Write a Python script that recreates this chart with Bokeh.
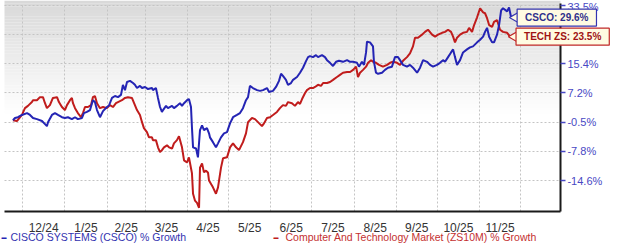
import numpy as np
import pandas as pd
from bokeh.plotting import figure
from bokeh.models import Range1d, FixedTicker, Label, BoxAnnotation
from bokeh.embed import file_html
from bokeh.resources import INLINE

# ---------------- data ----------------
start_date = pd.Timestamp("2024-11-24")

csco_day = [0.0, 1.5, 3.7, 6.6, 10.3, 12.5, 14.7, 17.6, 21.3, 23.5, 24.9, 25.7, 28.6, 30.8, 33.0, 35.9, 38.1,
            40.3, 43.2, 45.5, 47.6, 50.6, 52.0, 54.2, 56.5, 58.6, 60.1, 61.6, 63.8, 66.0, 68.9, 70.4, 72.6,
            74.8, 77.0, 79.2, 80.6, 82.1, 83.6, 85.8, 88.0, 89.4, 90.9, 93.1, 94.6, 96.8, 99.0, 101.9, 102.6,
            104.8, 106.3, 107.8, 109.2, 110.0, 112.2, 113.6, 116.6, 118.0, 120.2, 122.4, 123.9, 125.4, 127.6,
            129.0, 130.5, 131.2, 132.0, 134.2, 135.6, 137.1, 138.6, 140.0, 142.2, 143.7, 144.4, 146.6, 148.8,
            150.3, 152.5, 154.7, 156.9, 159.1, 161.3, 164.2, 166.4, 168.6, 170.8, 172.3, 173.7, 175.9, 178.9,
            181.1, 183.3, 186.2, 187.7, 190.6, 192.8, 195.0, 196.5, 197.9, 200.1, 201.6, 203.8, 205.3, 208.2,
            210.4, 212.6, 214.8, 216.3, 217.7, 219.9, 222.1, 223.6, 226.5, 228.7, 230.2, 232.4, 234.6, 236.8,
            239.0, 241.9, 244.9, 247.1, 249.3, 252.2, 253.6, 255.8, 257.3, 258.8, 259.5, 261.7, 263.9, 264.6,
            266.1, 267.6, 270.5, 272.7, 274.9, 277.8, 280.0, 282.2, 283.7, 285.9, 288.8, 291.0, 293.2, 296.2,
            298.4, 300.6, 303.5, 305.7, 307.9, 310.8, 313.0, 315.2, 316.7, 318.9, 321.1, 322.6, 324.0, 325.5,
            327.7, 329.9, 332.8, 335.0, 337.2, 340.2, 342.4, 344.6, 346.0, 347.5, 349.0, 351.2, 352.6, 354.8,
            356.3, 357.8, 359.2, 362.2, 363.6, 365.1, 366.6]
csco_growth = [0.0, 0.6, 0.8, 1.4, 1.9, 1.4, 0.6, 0.3, -0.2, -1.0, -1.5, -0.5, 1.4, 1.9, 1.4, 0.8, 0.6,
               0.8, 0.3, 0.8, 0.3, 0.6, 1.9, 2.2, 2.7, 5.3, 4.8, 2.7, 0.8, 2.4, 3.5, 3.9, 5.9,
               6.4, 6.1, 6.7, 9.5, 8.0, 10.3, 10.6, 10.0, 9.5, 8.6, 9.2, 8.6, 8.9, 8.3, 8.6, 8.0,
               8.6, 5.9, 3.5, 2.2, 2.7, 3.8, 3.2, 3.8, 3.2, 3.8, 4.5, 3.8, 4.5, 5.3,
               5.6, 3.5, -1.8, -6.8, -7.1, -9.2, -2.5, -1.3, -2.5, -2.0, -3.3, -4.3, -5.5, -6.8,
               -5.8, -4.3, -3.3, -3.0, -0.8, 0.8, 1.4, 1.9, 3.2, 5.3, 6.1, 9.2, 8.6, 8.0,
               7.8, 8.0, 8.6, 7.5, 7.8, 8.9, 10.6, 12.6, 12.0, 10.9, 9.5, 10.0, 10.9, 11.7,
               12.9, 14.3, 16.2, 17.4, 17.7, 17.4, 18.0, 17.4, 18.0, 17.4, 16.5, 15.7, 14.8, 16.0,
               16.3, 16.0, 16.5, 16.0, 16.0, 15.7, 14.6, 16.0, 15.1, 18.8, 22.0, 21.8, 20.6, 16.0,
               12.9, 12.6, 12.9, 13.7, 14.3, 14.6, 17.4, 17.4, 16.5, 15.1, 14.6, 15.1, 14.3, 12.9,
               14.3, 16.5, 16.0, 15.1, 14.6, 15.1, 15.7, 16.5, 16.0, 17.4, 18.8, 19.7, 17.4, 15.1,
               16.5, 18.8, 19.7, 20.3, 20.6, 21.8, 22.6, 23.5, 25.0, 26.3, 23.5, 21.8, 21.8, 24.1,
               27.2, 31.9, 32.6, 31.6, 32.9, 29.7, 29.6]

tech_day = [0.0, 2.9, 6.6, 8.8, 11.0, 13.9, 14.7, 17.6, 19.8, 22.0, 23.5, 24.9, 27.1, 29.3, 32.3, 33.7, 35.9,
            38.1, 39.6, 41.8, 43.2, 44.0, 45.5, 47.6, 49.9, 51.3, 52.8, 55.0, 57.2, 58.6, 60.1, 61.6, 63.8,
            66.0, 68.9, 71.1, 73.3, 75.5, 77.0, 79.9, 82.1, 84.3, 87.2, 89.4, 90.9, 93.1, 94.6, 96.0, 98.2,
            99.7, 101.9, 102.6, 104.8, 106.3, 107.8, 109.2, 110.7, 112.9, 114.4, 116.6, 118.0, 120.2, 121.7,
            123.9, 125.4, 127.6, 129.0, 131.2, 132.0, 133.4, 134.9, 136.4, 137.1, 138.6, 140.0, 141.5, 143.0,
            143.7, 146.6, 148.8, 150.3, 152.5, 154.0, 156.9, 159.1, 161.3, 163.5, 165.7, 168.6, 170.8, 172.3,
            175.2, 177.4, 179.6, 182.5, 184.0, 186.2, 188.4, 190.6, 193.5, 195.7, 197.9, 200.1, 201.6, 204.5,
            206.7, 208.9, 210.4, 211.9, 214.1, 215.5, 217.7, 219.9, 221.4, 223.6, 225.8, 227.3, 230.2, 232.4,
            234.6, 237.5, 239.7, 241.9, 244.9, 247.1, 249.3, 251.5, 252.9, 254.4, 256.6, 258.8, 260.3, 262.5,
            263.9, 266.1, 268.3, 271.2, 274.2, 276.4, 278.6, 281.5, 283.7, 285.9, 288.8, 291.0, 293.2, 294.7,
            296.9, 299.8, 302.0, 304.2, 307.2, 309.4, 311.6, 314.5, 316.7, 318.9, 321.1, 322.6, 324.0, 325.5,
            327.7, 329.9, 332.8, 334.3, 336.5, 338.0, 340.2, 342.4, 344.6, 346.0, 347.5, 349.0, 351.2, 352.6,
            354.8, 357.0, 359.2, 362.2, 364.4, 365.8]
tech_growth = [0.0, -0.2, 1.4, 3.2, 3.8, 4.8, 5.3, 5.3, 6.1, 6.1, 4.5, 3.2, 4.0, 5.9, 6.1, 4.8, 3.5,
               2.7, 4.0, 5.3, 5.9, 4.5, 3.2, 1.9, 0.8, 1.9, 3.5, 3.5, 4.0, 6.1, 6.4, 4.5, 3.2,
               3.5, 3.2, 4.0, 3.5, 4.5, 4.8, 5.3, 5.9, 6.1, 5.9, 4.0, 2.7, 1.4, -0.5, -2.0, -3.0,
               -4.3, -4.3, -5.0, -5.0, -6.8, -8.0, -7.5, -6.8, -6.3, -6.8, -7.1, -5.8, -5.0, -4.0,
               -6.8, -9.9, -10.4, -9.2, -12.9, -17.5, -19.0, -19.5, -20.6, -11.6, -10.6, -12.7, -12.3, -12.8,
               -14.6, -16.1, -17.5, -16.1, -11.6, -9.4, -9.2, -6.8, -5.8, -6.8, -7.5, -5.5, -3.3, -0.5,
               0.6, 0.3, -0.5, -1.5, -0.8, 0.6, 0.8, 1.4, 2.2, 3.2, 4.0, 3.8, 4.8, 4.5,
               3.8, 4.8, 4.3, 5.6, 7.2, 8.0, 8.6, 8.6, 8.9, 9.5, 9.2, 10.0, 10.0, 10.3,
               10.9, 11.7, 12.3, 12.9, 13.1, 13.1, 13.7, 14.6, 11.7, 12.9, 13.7, 14.6, 15.7, 16.5,
               16.0, 15.7, 15.1, 14.6, 15.1, 15.7, 16.0, 15.7, 15.1, 16.3, 17.4, 18.5, 20.6, 23.2,
               23.2, 24.1, 25.0, 25.7, 24.1, 23.5, 24.1, 24.7, 25.0, 25.7, 25.0, 23.5, 21.8, 23.2,
               24.1, 24.7, 25.0, 26.3, 25.0, 27.2, 29.7, 32.6, 31.3, 31.0, 29.4, 27.2, 26.6, 28.2,
               28.8, 25.7, 25.0, 24.7, 23.5, 23.5]

month_labels = ["12/24", "1/25", "2/25", "3/25", "4/25", "5/25", "6/25",
                "7/25", "8/25", "9/25", "10/25", "11/25"]
y_tick_values = [-21.0, -14.6, -7.8, -0.5, 7.2, 15.4, 24.1, 33.5]

csco_name = "CISCO SYSTEMS (CSCO) % Growth"
tech_name = "Computer And Technology Market (ZS10M) % Growth"

# ---------------- scales ----------------
# the value axis has evenly spaced gridlines at the chart's own tick values
pos_index = np.arange(len(y_tick_values)) - 1.0


def to_pos(g):
    return np.interp(np.asarray(g, dtype=float), y_tick_values, pos_index)


def ms(ts):
    return float(pd.Timestamp(ts).value // 10**6)


csco_dates = start_date + pd.to_timedelta(csco_day, unit="D")
tech_dates = start_date + pd.to_timedelta(tech_day, unit="D")

month_starts = pd.date_range("2024-12-01", periods=len(month_labels) + 1, freq="MS")
ms_starts = (month_starts.asi8 // 10**6).tolist()
ms_mid = [(a + b) // 2 for a, b in zip(ms_starts[:-1], ms_starts[1:])]

BLUE = "#2424b4"
RED = "#c01c1c"
LBL = "#4848c4"

# layout of the canvas (one frame covering everything; axes sit at fixed locations)
g0 = month_starts[0]
x_lo = ms(g0 - pd.Timedelta(days=16.12))
x_hi = ms(g0 + pd.Timedelta(days=438.3))
plot_left = ms(g0 - pd.Timedelta(days=13.19))
axis_x = ms(g0 + pd.Timedelta(days=394.3))
y_lo, y_hi = -2.194, 6.171
axis_y, plot_top = -1.063, 6.07

p = figure(width=620, height=244, x_axis_type="datetime", y_axis_location="right",
           x_range=Range1d(x_lo, x_hi), y_range=Range1d(y_lo, y_hi),
           output_backend="svg", toolbar_location=None,
           min_border_left=0, min_border_right=0, min_border_top=0, min_border_bottom=0)
p.outline_line_color = None
p.background_fill_color = "white"
p.border_fill_color = "white"

# soft grey gradient at the top of the plotting area
n_bands = 36
edges = np.linspace(2.3, y_hi, n_bands + 1)
for i in range(n_bands):
    t = (i + 0.5) / n_bands
    c = int(round(255 - t * (255 - 216)))
    p.add_layout(BoxAnnotation(bottom=edges[i], top=edges[i + 1], left=plot_left, right=axis_x,
                               fill_color=f"#{c:02x}{c:02x}{c:02x}", fill_alpha=1.0,
                               line_alpha=0, level="image"))

# grids
p.xgrid.ticker = FixedTicker(ticks=ms_starts)
p.xgrid.cross_bounds = (axis_y, plot_top)
p.ygrid.ticker = FixedTicker(ticks=list(pos_index[1:]))
p.ygrid.cross_bounds = (plot_left, axis_x)
for g in (p.xgrid, p.ygrid):
    g.grid_line_color = "#c4c4c4"
    g.grid_line_dash = "2 2"
    g.grid_line_width = 1

# x axis: month labels centred within each month
p.xaxis.fixed_location = axis_y
p.xaxis.bounds = (plot_left, axis_x)
p.xaxis.ticker = FixedTicker(ticks=ms_mid)
p.xaxis.major_label_overrides = {int(t): lab for t, lab in zip(ms_mid, month_labels)}
p.xaxis.axis_line_color = "#1a1a1a"
p.xaxis.axis_line_width = 2
p.xaxis.major_tick_line_color = None
p.xaxis.minor_tick_line_color = None
p.xaxis.major_label_text_font = "Liberation Sans"
p.xaxis.major_label_text_font_size = "12px"
p.xaxis.major_label_text_color = "#333333"
p.xaxis.major_label_standoff = 3

# y axis on the right
p.yaxis.fixed_location = axis_x
p.yaxis.bounds = (axis_y, plot_top)
p.yaxis.ticker = FixedTicker(ticks=list(pos_index[1:]))
p.yaxis.major_label_overrides = {int(i): f"{v}%" for i, v in zip(pos_index[1:], y_tick_values[1:])}
p.yaxis.axis_line_color = "#1a1a1a"
p.yaxis.axis_line_width = 2
p.yaxis.major_tick_line_color = LBL
p.yaxis.major_tick_line_width = 1.5
p.yaxis.major_tick_out = 5
p.yaxis.major_tick_in = 0
p.yaxis.minor_tick_line_color = None
p.yaxis.major_label_text_font = "Liberation Sans"
p.yaxis.major_label_text_font_size = "11px"
p.yaxis.major_label_text_color = LBL
p.yaxis.major_label_standoff = 2

# series
p.line(tech_dates, to_pos(tech_growth), line_color=RED, line_width=2)
p.line(csco_dates, to_pos(csco_growth), line_color=BLUE, line_width=2)

# end-value call-outs
callouts = [
    (csco_dates[-1], csco_growth[-1], f"CSCO: {csco_growth[-1]:.1f}%", "#3434b0", "#30308c"),
    (tech_dates[-1], tech_growth[-1], f"TECH ZS: {tech_growth[-1]:.1f}%", "#c02828", "#a01414"),
]
for d, v, txt, border, tcol in callouts:
    p.scatter([d + pd.Timedelta(days=2)], [to_pos(v)], marker="triangle", angle=np.pi / 2, size=11,
              fill_color="#fffbe2", line_color=border, line_width=1.2)
    p.add_layout(Label(x=d, y=float(to_pos(v)), x_offset=4, text=txt, text_align="left",
                       text_baseline="middle", text_font="Liberation Sans", text_font_style="bold",
                       text_font_size="10px", text_color=tcol, background_fill_color="#fffbe2",
                       border_line_color=border, border_line_width=1.2,
                       padding=dict(left=8, right=8, top=3, bottom=3)))

# legend below the axis
legend_items = [(1, 10, csco_name, BLUE, "#3333b0"), (273, 285, tech_name, RED, "#c43030")]
for xd, xt, name, lc, tc in legend_items:
    p.add_layout(Label(x=xd, y=236, x_units="canvas", y_units="canvas", text="\u25ac",
                       text_font_size="5px", text_color=lc, text_baseline="middle"))
    p.add_layout(Label(x=xt, y=236, x_units="canvas", y_units="canvas", text=name,
                       text_font="Liberation Sans", text_font_size="10.5px", text_color=tc,
                       text_baseline="middle"))

open("out.html", "w").write(file_html(p, INLINE))
